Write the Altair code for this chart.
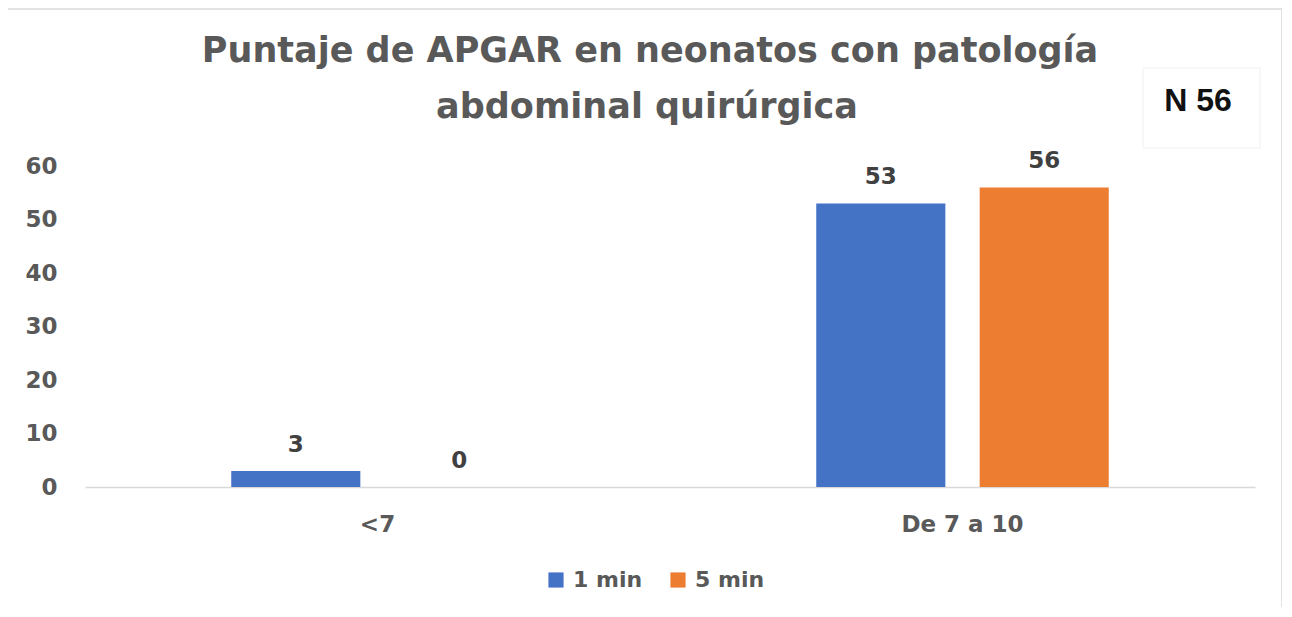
import altair as alt
import pandas as pd

categories = ["<7", "<7", "De 7 a 10", "De 7 a 10"]
series = ["1 min", "5 min", "1 min", "5 min"]
values = [3, 0, 53, 56]
y_ticks = [0, 10, 20, 30, 40, 50, 60]
title_lines = ["Puntaje de APGAR en neonatos con patología", "abdominal quirúrgica"]
note = "N 56"

df = pd.DataFrame({"cat": categories, "serie": series, "val": values})

FONT = "DejaVu Sans"
GRAY = "#595959"
cat_order = ["<7", "De 7 a 10"]
ser_order = ["1 min", "5 min"]

x_enc = alt.X("cat:N", sort=cat_order,
              scale=alt.Scale(paddingInner=0.5, paddingOuter=0.25),
              axis=alt.Axis(title=None, labelAngle=0, labelFont=FONT, labelFontSize=23,
                            labelFontWeight="bold", labelColor=GRAY, labelPadding=26,
                            ticks=False, domainColor="#d9d9d9", domainWidth=1.5))
xo = alt.XOffset("serie:N", sort=ser_order,
                 scale=alt.Scale(paddingInner=0.21, paddingOuter=0))
y_enc = alt.Y("val:Q", scale=alt.Scale(domain=[0, 60]),
              axis=alt.Axis(title=None, values=y_ticks, grid=False, domain=False, ticks=False,
                            labelFont=FONT, labelFontSize=23, labelFontWeight="bold",
                            labelColor=GRAY, labelPadding=28))
color = alt.Color("serie:N", sort=ser_order,
                  scale=alt.Scale(domain=ser_order, range=["#4472C4", "#ED7D31"]),
                  legend=alt.Legend(title=None, orient="none", legendX=460, legendY=403,
                                    direction="horizontal", symbolType="square", symbolSize=230,
                                    symbolStrokeWidth=0, labelFont=FONT, labelFontSize=22,
                                    labelFontWeight="bold", labelColor=GRAY, columnPadding=24,
                                    labelOffset=6))

bars = alt.Chart(df).mark_bar().encode(x=x_enc, xOffset=xo, y=y_enc, color=color)
labels = alt.Chart(df).mark_text(font=FONT, fontSize=23, fontWeight="bold", color="#404040",
                                 baseline="bottom", dy=-14).encode(
    x=alt.X("cat:N", sort=cat_order), xOffset=xo, y="val:Q", text="val:Q")

one = pd.DataFrame({"a": [0]})
border = alt.Chart(one).mark_rect(
    fill=None, stroke="#d9d9d9", strokeWidth=1.5).encode(
    x=alt.value(-82), x2=alt.value(1197), y=alt.value(-157), y2=alt.value(470))

nbox = alt.Chart(one).mark_rect(
    fill="white", stroke="#f0f0f0", strokeWidth=1).encode(
    x=alt.value(1058), x2=alt.value(1175), y=alt.value(-98), y2=alt.value(-18))
ntext = alt.Chart(pd.DataFrame({"t": [note]})).mark_text(
    font="Liberation Sans", fontSize=32, fontWeight="bold", color="#111111",
    baseline="middle").encode(x=alt.value(1113), y=alt.value(-65), text="t:N")

t1 = alt.Chart(pd.DataFrame({"t": [title_lines[0]]})).mark_text(
    font=FONT, fontSize=35, fontWeight="bold", color=GRAY, baseline="alphabetic").encode(
    x=alt.value(565), y=alt.value(-104), text="t:N")
t2 = alt.Chart(pd.DataFrame({"t": [title_lines[1]]})).mark_text(
    font=FONT, fontSize=35, fontWeight="bold", color=GRAY, baseline="alphabetic").encode(
    x=alt.value(562), y=alt.value(-48), text="t:N")

chart = alt.layer(border, nbox, ntext, t1, t2, bars, labels).properties(
    width=1170, height=321,
    autosize=alt.AutoSizeParams(type="none"),
    padding={"left": 77, "top": 158, "right": 27, "bottom": 120},
).configure(background="white", view=alt.ViewConfig(stroke="transparent", strokeWidth=0))

chart.save("out.html", embed_options={"renderer": "svg", "actions": False})
